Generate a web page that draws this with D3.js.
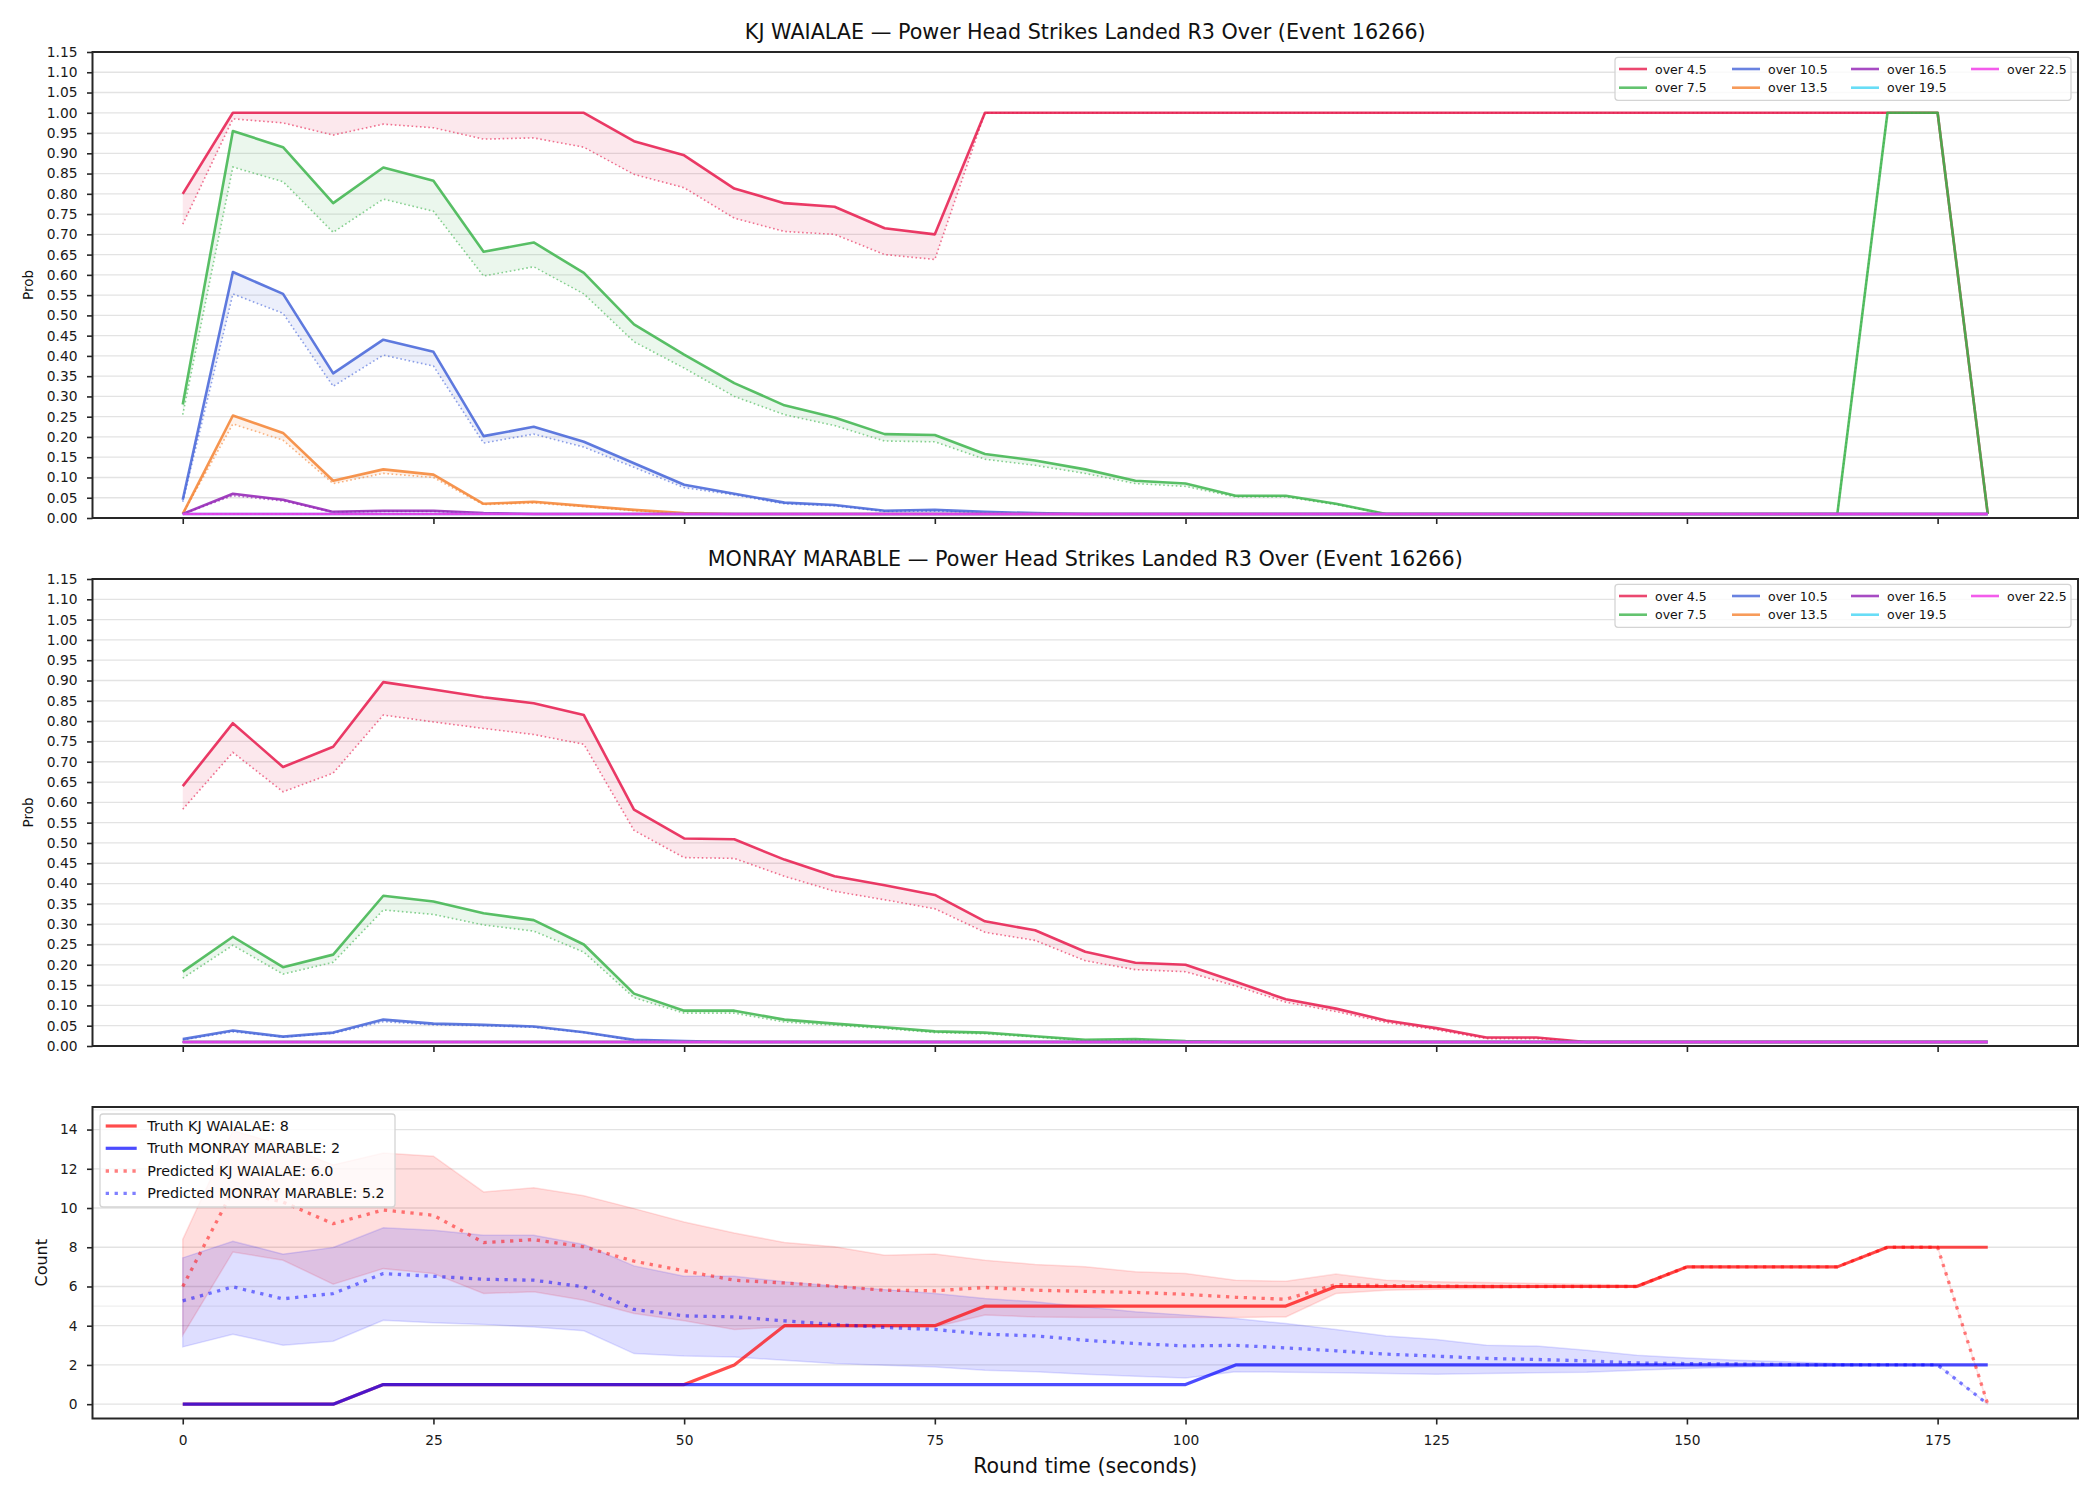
<!DOCTYPE html>
<html>
<head>
<meta charset="utf-8">
<script src="https://cdn.jsdelivr.net/npm/d3@7"></script>
<style>
  body { margin: 0; background: #fff; }
  svg { font-family: "DejaVu Sans", sans-serif; }
</style>
</head>
<body>
<div id="chart"></div>
<script>
// round time in seconds
const ROUND_TIMES = [0, 5, 10, 15, 20, 25, 30, 35, 40, 45, 50, 55, 60, 65, 70, 75, 80, 85, 90,
  95, 100, 105, 110, 115, 120, 125, 130, 135, 140, 145, 150, 155, 160, 165, 170, 175, 180];
const X_TICKS = [0, 25, 50, 75, 100, 125, 150, 175];
const LINE_NAMES = ["over 4.5", "over 7.5", "over 10.5", "over 13.5", "over 16.5", "over 19.5", "over 22.5"];
const LINE_COLORS = ["#e6194b", "#3cb44b", "#4363d8", "#f58231", "#911eb4", "#42d4f4", "#f032e6"];

const FLOOR_37 = [0.01, 0.01, 0.01, 0.01, 0.01, 0.01, 0.01, 0.01, 0.01, 0.01, 0.01, 0.01, 0.01,
  0.01, 0.01, 0.01, 0.01, 0.01, 0.01, 0.01, 0.01, 0.01, 0.01, 0.01, 0.01, 0.01, 0.01, 0.01, 0.01,
  0.01, 0.01, 0.01, 0.01, 0.01, 0.01, 0.01, 0.01];

// KJ WAIALAE: market (solid) vs model (dotted)
const KJ_MARKET = [
  [0.80, 1.00, 1.00, 1.00, 1.00, 1.00, 1.00, 1.00, 1.00, 0.93, 0.895, 0.813, 0.777, 0.768, 0.715, 0.70,
    1.00, 1.00, 1.00, 1.00, 1.00, 1.00, 1.00, 1.00, 1.00, 1.00, 1.00, 1.00, 1.00, 1.00, 1.00, 1.00,
    1.00, 1.00, 1.00, 1.00, 0.01],
  [0.28, 0.955, 0.915, 0.777, 0.865, 0.832, 0.657, 0.68, 0.605, 0.478, 0.403, 0.333, 0.278, 0.248,
    0.207, 0.205, 0.158, 0.142, 0.12, 0.092, 0.085, 0.055, 0.055, 0.035, 0.01, 0.01, 0.01, 0.01,
    0.01, 0.01, 0.01, 0.01, 0.01, 0.01, 1.00, 1.00, 0.01],
  [0.045, 0.607, 0.553, 0.357, 0.44, 0.41, 0.202, 0.225, 0.188, 0.135, 0.082, 0.06, 0.038, 0.032,
    0.018, 0.02, 0.015, 0.012, 0.01, 0.01, 0.01, 0.01, 0.01, 0.01, 0.01, 0.01, 0.01, 0.01, 0.01,
    0.01, 0.01, 0.01, 0.01, 0.01, 0.01, 0.01, 0.01],
  [0.01, 0.253, 0.21, 0.092, 0.12, 0.107, 0.035, 0.04, 0.03, 0.02, 0.012, 0.01, 0.01, 0.01, 0.01,
    0.01, 0.01, 0.01, 0.01, 0.01, 0.01, 0.01, 0.01, 0.01, 0.01, 0.01, 0.01, 0.01, 0.01, 0.01, 0.01,
    0.01, 0.01, 0.01, 0.01, 0.01, 0.01],
  [0.01, 0.06, 0.045, 0.015, 0.018, 0.018, 0.012, 0.01, 0.01, 0.01, 0.01, 0.01, 0.01, 0.01, 0.01,
    0.01, 0.01, 0.01, 0.01, 0.01, 0.01, 0.01, 0.01, 0.01, 0.01, 0.01, 0.01, 0.01, 0.01, 0.01, 0.01,
    0.01, 0.01, 0.01, 0.01, 0.01, 0.01],
  FLOOR_37,
  FLOOR_37
];
const KJ_MODEL = [
  [0.725, 0.985, 0.975, 0.945, 0.972, 0.963, 0.935, 0.938, 0.915, 0.848, 0.815, 0.74, 0.707, 0.70,
    0.65, 0.638, 1.00, 1.00, 1.00, 1.00, 1.00, 1.00, 1.00, 1.00, 1.00, 1.00, 1.00, 1.00, 1.00, 1.00,
    1.00, 1.00, 1.00, 1.00, 1.00, 1.00, 0.01],
  [0.255, 0.866, 0.83, 0.705, 0.787, 0.757, 0.597, 0.62, 0.553, 0.435, 0.37, 0.30, 0.255, 0.228,
    0.19, 0.188, 0.145, 0.13, 0.11, 0.085, 0.078, 0.052, 0.052, 0.033, 0.01, 0.01, 0.01, 0.01, 0.01,
    0.01, 0.01, 0.01, 0.01, 0.01, 1.00, 1.00, 0.01],
  [0.04, 0.553, 0.505, 0.325, 0.402, 0.375, 0.185, 0.207, 0.175, 0.125, 0.075, 0.057, 0.035, 0.03,
    0.016, 0.017, 0.013, 0.011, 0.01, 0.01, 0.01, 0.01, 0.01, 0.01, 0.01, 0.01, 0.01, 0.01, 0.01,
    0.01, 0.01, 0.01, 0.01, 0.01, 0.01, 0.01, 0.01],
  [0.01, 0.232, 0.192, 0.085, 0.11, 0.10, 0.033, 0.037, 0.028, 0.018, 0.011, 0.01, 0.01, 0.01, 0.01,
    0.01, 0.01, 0.01, 0.01, 0.01, 0.01, 0.01, 0.01, 0.01, 0.01, 0.01, 0.01, 0.01, 0.01, 0.01, 0.01,
    0.01, 0.01, 0.01, 0.01, 0.01, 0.01],
  [0.01, 0.055, 0.042, 0.014, 0.016, 0.016, 0.011, 0.01, 0.01, 0.01, 0.01, 0.01, 0.01, 0.01, 0.01,
    0.01, 0.01, 0.01, 0.01, 0.01, 0.01, 0.01, 0.01, 0.01, 0.01, 0.01, 0.01, 0.01, 0.01, 0.01, 0.01,
    0.01, 0.01, 0.01, 0.01, 0.01, 0.01],
  FLOOR_37,
  FLOOR_37
];

// MONRAY MARABLE
const MM_MARKET = [
  [0.640, 0.795, 0.687, 0.737, 0.896, 0.878, 0.859, 0.844, 0.815, 0.582, 0.511, 0.509, 0.459, 0.418,
    0.396, 0.372, 0.307, 0.285, 0.232, 0.205, 0.200, 0.158, 0.115, 0.092, 0.063, 0.044, 0.021, 0.021,
    0.01, 0.01, 0.01, 0.01, 0.01, 0.01, 0.01, 0.01, 0.01],
  [0.183, 0.269, 0.194, 0.225, 0.370, 0.356, 0.327, 0.310, 0.250, 0.129, 0.087, 0.087, 0.065, 0.055,
    0.046, 0.036, 0.033, 0.024, 0.015, 0.017, 0.012, 0.01, 0.01, 0.01, 0.01, 0.01, 0.01, 0.01, 0.01,
    0.01, 0.01, 0.01, 0.01, 0.01, 0.01, 0.01, 0.01],
  [0.017, 0.038, 0.023, 0.033, 0.065, 0.055, 0.052, 0.048, 0.034, 0.015, 0.012, 0.01, 0.01, 0.01,
    0.01, 0.01, 0.01, 0.01, 0.01, 0.01, 0.01, 0.01, 0.01, 0.01, 0.01, 0.01, 0.01, 0.01, 0.01, 0.01,
    0.01, 0.01, 0.01, 0.01, 0.01, 0.01, 0.01],
  FLOOR_37,
  FLOOR_37,
  FLOOR_37,
  FLOOR_37
];
const MM_MODEL = [
  [0.583, 0.723, 0.626, 0.672, 0.815, 0.798, 0.782, 0.767, 0.743, 0.531, 0.464, 0.462, 0.418, 0.381,
    0.36, 0.338, 0.28, 0.26, 0.21, 0.188, 0.183, 0.148, 0.108, 0.085, 0.058, 0.04, 0.018, 0.018,
    0.01, 0.01, 0.01, 0.01, 0.01, 0.01, 0.01, 0.01, 0.01],
  [0.167, 0.248, 0.177, 0.206, 0.335, 0.324, 0.298, 0.283, 0.231, 0.119, 0.081, 0.081, 0.059, 0.051,
    0.043, 0.033, 0.03, 0.022, 0.013, 0.015, 0.011, 0.01, 0.01, 0.01, 0.01, 0.01, 0.01, 0.01, 0.01,
    0.01, 0.01, 0.01, 0.01, 0.01, 0.01, 0.01, 0.01],
  [0.015, 0.035, 0.022, 0.031, 0.06, 0.052, 0.05, 0.046, 0.033, 0.014, 0.011, 0.01, 0.01, 0.01,
    0.01, 0.01, 0.01, 0.01, 0.01, 0.01, 0.01, 0.01, 0.01, 0.01, 0.01, 0.01, 0.01, 0.01, 0.01, 0.01,
    0.01, 0.01, 0.01, 0.01, 0.01, 0.01, 0.01],
  FLOOR_37,
  FLOOR_37,
  FLOOR_37,
  FLOOR_37
];

// bottom panel: counts
const TRUTH_KJ = [0, 0, 0, 0, 1, 1, 1, 1, 1, 1, 1, 2, 4, 4, 4, 4, 5, 5, 5, 5, 5, 5, 5, 6, 6, 6, 6,
  6, 6, 6, 7, 7, 7, 7, 8, 8, 8];
const TRUTH_MM = [0, 0, 0, 0, 1, 1, 1, 1, 1, 1, 1, 1, 1, 1, 1, 1, 1, 1, 1, 1, 1, 2, 2, 2, 2, 2, 2,
  2, 2, 2, 2, 2, 2, 2, 2, 2, 2];
const PRED_KJ = [6.0, 10.9, 10.3, 9.2, 9.9, 9.63, 8.24, 8.39, 8.02, 7.29, 6.8, 6.32, 6.18, 6.01,
  5.81, 5.78, 5.95, 5.81, 5.75, 5.7, 5.6, 5.45, 5.35, 6.1, 6.05, 6.02, 6.0, 6.0, 6.0, 6.0, 7.0, 7.0,
  7.0, 7.0, 8.0, 8.0, 0];
const UPPER_KJ = [8.4, 13.95, 13.2, 12.2, 12.8, 12.64, 10.82, 11.03, 10.62, 9.97, 9.29, 8.73, 8.24,
  8.02, 7.59, 7.65, 7.34, 7.12, 7.0, 6.75, 6.66, 6.32, 6.27, 6.63, 6.32, 6.24, 6.2, 6.15, 6.12, 6.07,
  7.0, 7.0, 7.0, 7.0, 8.0, 8.0, 0];
const LOWER_KJ = [3.52, 7.76, 7.34, 6.12, 6.91, 6.66, 5.64, 5.73, 5.3, 4.62, 4.25, 3.81, 3.94, 3.94,
  3.94, 3.94, 4.54, 4.45, 4.42, 4.42, 4.42, 4.42, 4.45, 5.64, 5.81, 5.86, 5.9, 5.95, 5.98, 6.0, 7.0,
  7.0, 7.0, 7.0, 8.0, 8.0, 0];
const PRED_MM = [5.27, 5.98, 5.37, 5.64, 6.66, 6.52, 6.37, 6.32, 5.98, 4.83, 4.5, 4.45, 4.25, 4.06,
  3.91, 3.81, 3.57, 3.48, 3.26, 3.09, 2.97, 3.0, 2.87, 2.72, 2.55, 2.45, 2.33, 2.28, 2.21, 2.1, 2.07,
  2.05, 2.02, 2.0, 2.0, 2.0, 0];
const UPPER_MM = [7.46, 8.31, 7.65, 7.99, 8.99, 8.87, 8.61, 8.61, 8.14, 7.05, 6.52, 6.52, 6.24, 6.03,
  5.84, 5.64, 5.39, 5.22, 4.96, 4.71, 4.54, 4.37, 4.11, 3.81, 3.48, 3.3, 3.0, 2.96, 2.75, 2.5, 2.36,
  2.24, 2.16, 2.07, 2.04, 2.0, 0];
const LOWER_MM = [2.92, 3.57, 3.0, 3.21, 4.28, 4.15, 4.06, 3.94, 3.74, 2.58, 2.45, 2.41, 2.24, 2.07,
  1.99, 1.9, 1.73, 1.65, 1.53, 1.43, 1.34, 1.65, 1.63, 1.6, 1.56, 1.53, 1.56, 1.6, 1.63, 1.73, 1.82,
  1.9, 1.94, 1.97, 2.0, 2.0, 0];
const COUNT_TICKS = [0, 2, 4, 6, 8, 10, 12, 14];
const COUNT_EXTRA_LINES = [5, 15];

const W = 2100, H = 1500;
const left = 92.5, right = 2078;
const GRID = "#e3e3e3";
const SPINE = "#262626";

const svg = d3.select("#chart").append("svg")
  .attr("width", W)
  .attr("height", H);

const x = d3.scaleLinear()
  .domain([-9, 189])
  .range([left, right]);

drawProbPanel("KJ WAIALAE — Power Head Strikes Landed R3 Over (Event 16266)", 52, 518, KJ_MARKET, KJ_MODEL);
drawProbPanel("MONRAY MARABLE — Power Head Strikes Landed R3 Over (Event 16266)", 579, 1046, MM_MARKET, MM_MODEL);
drawCountPanel(1107, 1418.5);

function frame(g, top, bottom) {
  g.append("rect")
    .attr("x", left).attr("y", top)
    .attr("width", right - left).attr("height", bottom - top)
    .attr("fill", "none")
    .attr("stroke", SPINE)
    .attr("stroke-width", 2);

  // x tick marks on every panel
  g.append("g")
    .attr("transform", `translate(0,${bottom})`)
    .call(d3.axisBottom(x).tickValues(X_TICKS).tickSize(6).tickFormat(""))
    .call(a => a.select(".domain").remove())
    .call(a => a.selectAll("line").attr("stroke", SPINE).attr("stroke-width", 1.6));
}

function leftAxis(g, y, ticks, fmt) {
  g.append("g")
    .attr("transform", `translate(${left},0)`)
    .call(d3.axisLeft(y).tickValues(ticks).tickSize(5.5).tickPadding(9.5).tickFormat(fmt))
    .call(a => a.select(".domain").remove())
    .call(a => a.selectAll("line").attr("stroke", SPINE).attr("stroke-width", 1.6))
    .call(a => a.selectAll("text")
      .attr("fill", "#1a1a1a")
      .style("font-size", "13.8px")
      .style("font-family", "DejaVu Sans"));
}

function drawProbPanel(title, top, bottom, market, model) {
  const g = svg.append("g");
  const y = d3.scaleLinear().domain([0, 1.15]).range([bottom, top]);
  const yTicks = d3.range(0, 24).map(i => i * 0.05);

  g.append("g")
    .selectAll("line")
    .data(yTicks.slice(1))
    .join("line")
    .attr("x1", left).attr("x2", right)
    .attr("y1", d => y(d)).attr("y2", d => y(d))
    .attr("stroke", GRID)
    .attr("stroke-width", 1.3);

  const line = vals => d3.line()
    .x((d, i) => x(ROUND_TIMES[i]))
    .y(d => y(d))(vals);

  const area = d3.area()
    .x(d => x(d.t))
    .y0(d => y(d.lo))
    .y1(d => y(d.hi));

  LINE_NAMES.forEach((name, k) => {
    const c = LINE_COLORS[k];
    const pts = ROUND_TIMES.map((t, i) => ({ t: t, lo: model[k][i], hi: market[k][i] }));
    g.append("path")
      .attr("d", area(pts))
      .attr("fill", c)
      .attr("fill-opacity", 0.1);
    g.append("path")
      .attr("d", line(market[k]))
      .attr("fill", "none")
      .attr("stroke", c)
      .attr("stroke-opacity", 0.85)
      .attr("stroke-width", 2.6)
      .attr("stroke-linejoin", "round");
    g.append("path")
      .attr("d", line(model[k]))
      .attr("fill", "none")
      .attr("stroke", c)
      .attr("stroke-opacity", 0.6)
      .attr("stroke-width", 1.6)
      .attr("stroke-dasharray", "1.6,2.6");
  });

  frame(g, top, bottom);
  leftAxis(g, y, yTicks, d3.format(".2f"));

  g.append("text")
    .attr("x", (left + right) / 2)
    .attr("y", top - 13)
    .attr("text-anchor", "middle")
    .style("font-size", "20.7px")
    .attr("fill", "#111")
    .text(title);

  g.append("text")
    .attr("transform", `translate(28,${(top + bottom) / 2}) rotate(-90)`)
    .attr("text-anchor", "middle")
    .attr("dominant-baseline", "central")
    .style("font-size", "13.5px")
    .attr("fill", "#111")
    .text("Prob");

  // legend, 4 columns, filled column by column
  const lg = g.append("g");
  lg.append("rect")
    .attr("x", 1615).attr("y", top + 5.3)
    .attr("width", 456).attr("height", 43)
    .attr("rx", 3)
    .attr("fill", "#fff").attr("fill-opacity", 0.8)
    .attr("stroke", "#d4d4d4").attr("stroke-width", 1.3);
  const colX = [1619, 1732, 1851, 1971];
  const rowY = [top + 17, top + 35.7];
  LINE_NAMES.forEach((name, k) => {
    const cx = colX[Math.floor(k / 2)];
    const cy = rowY[k % 2];
    lg.append("line")
      .attr("x1", cx).attr("x2", cx + 28)
      .attr("y1", cy).attr("y2", cy)
      .attr("stroke", LINE_COLORS[k])
      .attr("stroke-opacity", 0.8)
      .attr("stroke-width", 2.6);
    lg.append("text")
      .attr("x", cx + 36).attr("y", cy)
      .attr("dominant-baseline", "central")
      .style("font-size", "12.5px")
      .attr("fill", "#111")
      .text(name);
  });
}

function drawCountPanel(top, bottom) {
  const g = svg.append("g");
  const y = d3.scaleLinear().domain([-0.73, 15.15]).range([bottom, top]);

  g.append("g")
    .selectAll("line")
    .data(COUNT_TICKS.concat(COUNT_EXTRA_LINES))
    .join("line")
    .attr("x1", left).attr("x2", right)
    .attr("y1", d => y(d)).attr("y2", d => y(d))
    .attr("stroke", d => COUNT_TICKS.includes(d) ? GRID : "#efefef")
    .attr("stroke-width", 1.3);

  const line = vals => d3.line()
    .x((d, i) => x(ROUND_TIMES[i]))
    .y(d => y(d))(vals);

  const band = (lo, hi) => d3.area()
    .x((d, i) => x(ROUND_TIMES[i]))
    .y0((d, i) => y(lo[i]))
    .y1((d, i) => y(hi[i]))(lo);

  const bands = [
    { lo: LOWER_KJ, hi: UPPER_KJ, color: "#ff0000" },
    { lo: LOWER_MM, hi: UPPER_MM, color: "#0000ff" }
  ];
  bands.forEach(b => {
    g.append("path")
      .attr("d", band(b.lo, b.hi))
      .attr("fill", b.color)
      .attr("fill-opacity", 0.13)
      .attr("stroke", b.color)
      .attr("stroke-opacity", 0.12)
      .attr("stroke-width", 1.5);
  });

  const series = [
    { vals: TRUTH_KJ, color: "#ff0000", opacity: 0.7, width: 3.2, dash: null, label: "Truth KJ WAIALAE: 8" },
    { vals: TRUTH_MM, color: "#0000ff", opacity: 0.7, width: 3.2, dash: null, label: "Truth MONRAY MARABLE: 2" },
    { vals: PRED_KJ, color: "#ff0000", opacity: 0.5, width: 3.3, dash: "3.3,5.6", label: "Predicted KJ WAIALAE: 6.0" },
    { vals: PRED_MM, color: "#0000ff", opacity: 0.5, width: 3.3, dash: "3.3,5.6", label: "Predicted MONRAY MARABLE: 5.2" }
  ];
  series.forEach(s => {
    g.append("path")
      .attr("d", line(s.vals))
      .attr("fill", "none")
      .attr("stroke", s.color)
      .attr("stroke-opacity", s.opacity)
      .attr("stroke-width", s.width)
      .attr("stroke-dasharray", s.dash)
      .attr("stroke-linejoin", "round");
  });

  frame(g, top, bottom);
  leftAxis(g, y, COUNT_TICKS, d3.format("d"));

  g.append("g")
    .attr("transform", `translate(0,${bottom})`)
    .call(d3.axisBottom(x).tickValues(X_TICKS).tickSize(6).tickPadding(10.5))
    .call(a => a.select(".domain").remove())
    .call(a => a.selectAll("line").remove())
    .call(a => a.selectAll("text")
      .attr("fill", "#1a1a1a")
      .style("font-size", "13.8px")
      .style("font-family", "DejaVu Sans"));

  g.append("text")
    .attr("x", (left + right) / 2)
    .attr("y", 1472.7)
    .attr("text-anchor", "middle")
    .style("font-size", "20.5px")
    .attr("fill", "#111")
    .text("Round time (seconds)");

  g.append("text")
    .attr("transform", `translate(41.7,${(top + bottom) / 2}) rotate(-90)`)
    .attr("text-anchor", "middle")
    .attr("dominant-baseline", "central")
    .style("font-size", "16px")
    .attr("fill", "#111")
    .text("Count");

  // legend
  const lg = g.append("g");
  lg.append("rect")
    .attr("x", 100).attr("y", 1114)
    .attr("width", 295).attr("height", 93)
    .attr("rx", 3)
    .attr("fill", "#fff").attr("fill-opacity", 0.8)
    .attr("stroke", "#d4d4d4").attr("stroke-width", 1.3);
  const rowY = [1126, 1148.3, 1171, 1193.3];
  series.forEach((s, k) => {
    lg.append("line")
      .attr("x1", 105.7).attr("x2", 136.7)
      .attr("y1", rowY[k]).attr("y2", rowY[k])
      .attr("stroke", s.color)
      .attr("stroke-opacity", s.opacity)
      .attr("stroke-width", s.width)
      .attr("stroke-dasharray", s.dash);
    lg.append("text")
      .attr("x", 147.3).attr("y", rowY[k])
      .attr("dominant-baseline", "central")
      .style("font-size", "14.3px")
      .attr("fill", "#111")
      .text(s.label);
  });
}
</script>
</body>
</html>
